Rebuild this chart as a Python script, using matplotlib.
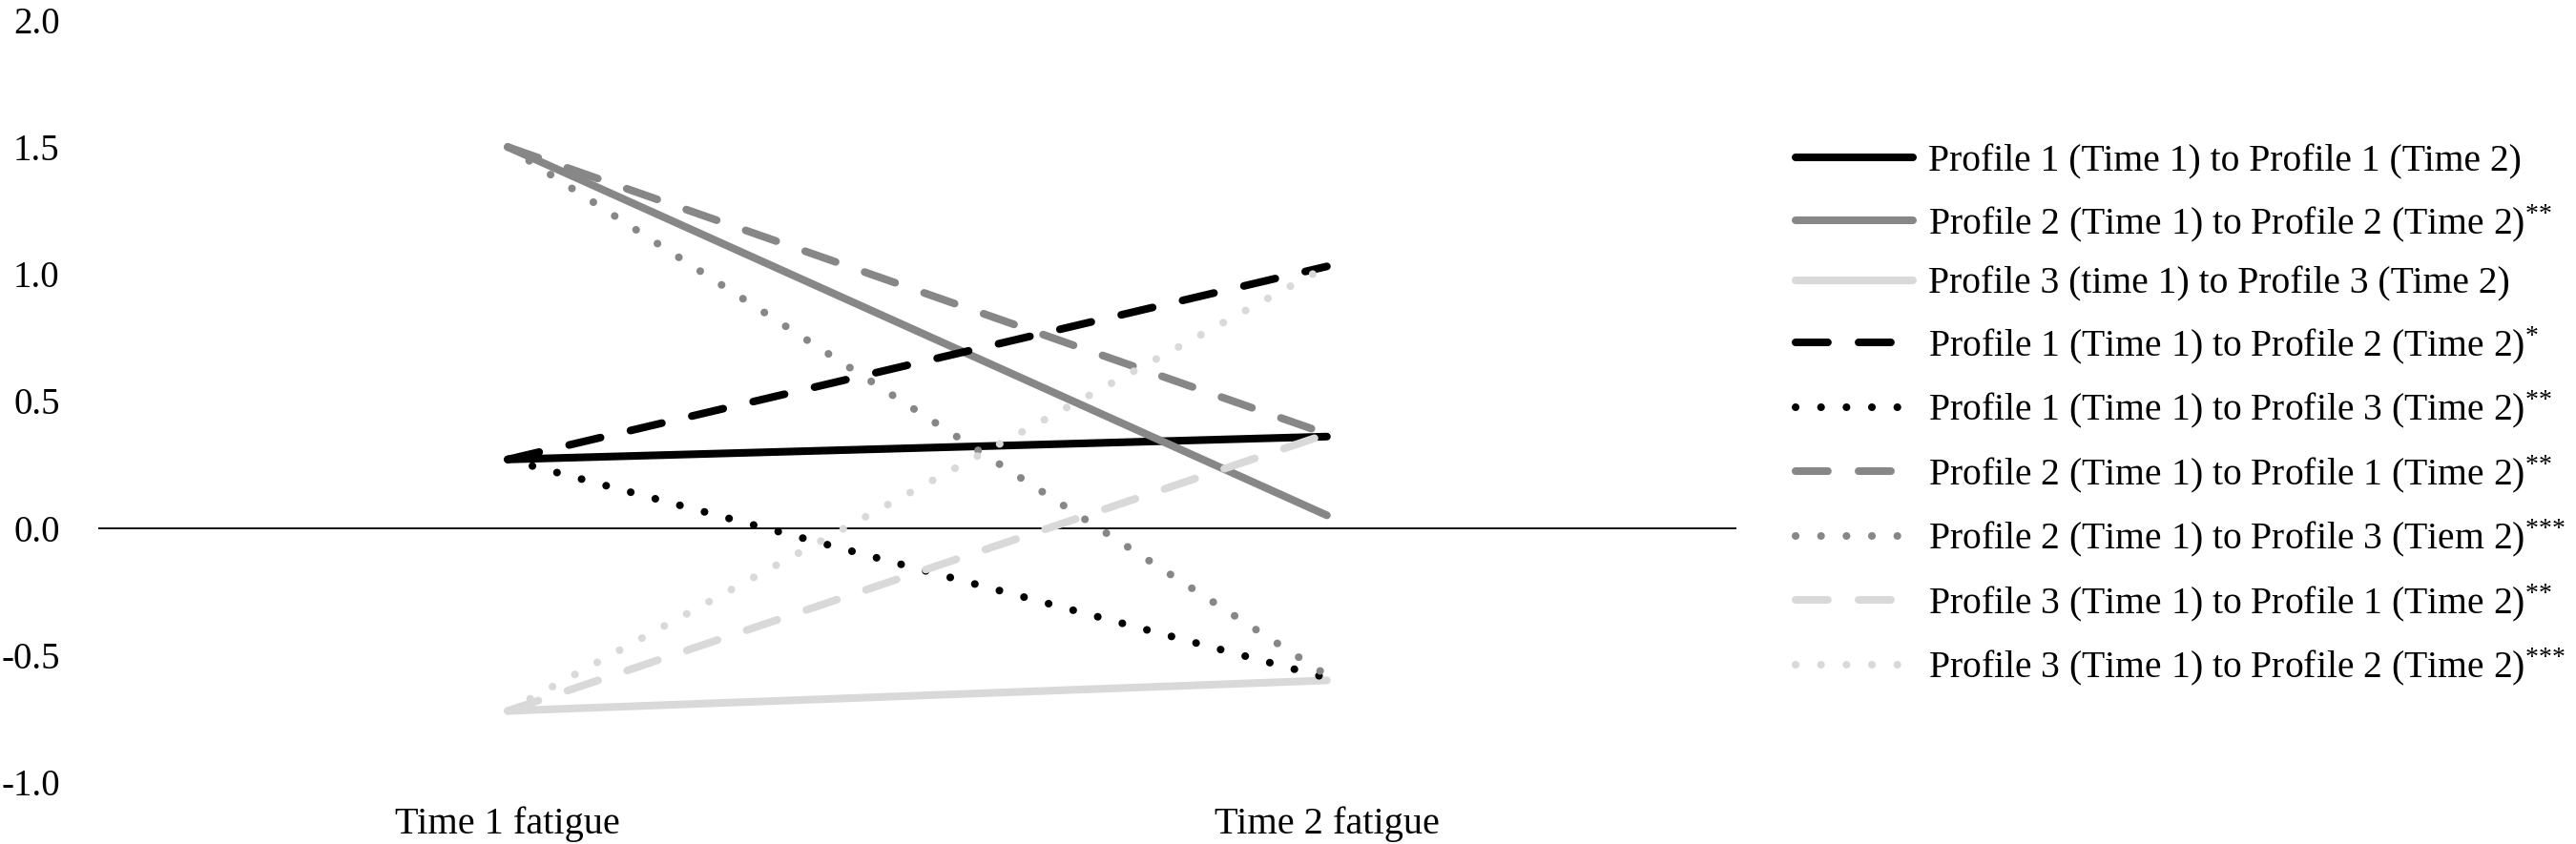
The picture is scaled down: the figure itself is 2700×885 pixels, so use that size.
import matplotlib
matplotlib.use("Agg")
import matplotlib.pyplot as plt

plt.rcParams['mathtext.fontset'] = 'custom'
plt.rcParams['mathtext.rm'] = 'Liberation Serif'
plt.rcParams['mathtext.it'] = 'Liberation Serif'

# data
times = ['Time 1 fatigue', 'Time 2 fatigue']
labels = [
    'Profile 1 (Time 1) to Profile 1 (Time 2)',
    'Profile 2 (Time 1) to Profile 2 (Time 2)$^{{*}{*}}$',
    'Profile 3 (time 1) to Profile 3 (Time 2)',
    'Profile 1 (Time 1) to Profile 2 (Time 2)$^{{*}}$',
    'Profile 1 (Time 1) to Profile 3 (Time 2)$^{{*}{*}}$',
    'Profile 2 (Time 1) to Profile 1 (Time 2)$^{{*}{*}}$',
    'Profile 2 (Time 1) to Profile 3 (Tiem 2)$^{{*}{*}{*}}$',
    'Profile 3 (Time 1) to Profile 1 (Time 2)$^{{*}{*}}$',
    'Profile 3 (Time 1) to Profile 2 (Time 2)$^{{*}{*}{*}}$',
]
p11 = [0.27, 0.36]
p22 = [1.50, 0.05]
p33 = [-0.72, -0.60]
p12 = [0.27, 1.03]
p13 = [0.27, -0.59]
p21 = [1.50, 0.37]
p23 = [1.50, -0.58]
p31 = [-0.72, 0.37]
p32 = [-0.72, 1.03]
series = [p11, p22, p33, p12, p13, p21, p23, p31, p32]

black = '#000000'
gray = '#878787'
light = '#d9d9d9'
solid = '-'
dashed = (0, (4.2, 4.0))
dotted = (0, (0.01, 3.3))
colors = [black, gray, light, black, black, gray, gray, light, light]
styles = [solid, solid, solid, dashed, dotted, dashed, dotted, dashed, dotted]

W, H = 2700, 885
fig = plt.figure(figsize=(27, 8.85), dpi=100)
ax = fig.add_axes([103 / W, 1 - 820 / H, (1820 - 103) / W, (820 - 21) / H])

x = list(range(len(times)))
for vals, c, ls, lab in zip(series, colors, styles, labels):
    ax.plot(x, vals, color=c, linestyle=ls, linewidth=5.8, label=lab,
            solid_capstyle='round', dash_capstyle='round')

ax.axhline(0, color='black', linewidth=1.3, zorder=0)
ax.set_xlim(-0.5, 1.5)
ax.set_ylim(-1.0, 2.0)
ax.set_yticks([-1.0, -0.5, 0.0, 0.5, 1.0, 1.5, 2.0])
ax.set_yticklabels(['-1.0', '-0.5', '0.0', '0.5', '1.0', '1.5', '2.0'],
                   fontfamily='Liberation Serif', fontsize=28)
ax.set_xticks(x)
ax.set_xticklabels(times, fontfamily='Liberation Serif', fontsize=29)
ax.tick_params(axis='y', length=0, pad=29)
ax.tick_params(axis='x', length=0, pad=18)
for s in ax.spines.values():
    s.set_visible(False)

fig.legend(loc='center left', bbox_to_anchor=(1882 / W, 1 - 436 / H),
           frameon=False, borderpad=0, borderaxespad=0,
           handlelength=3.1, handletextpad=0.4, labelspacing=0.6,
           prop={'family': 'Liberation Serif', 'size': 28.5})

fig.savefig('out.png', dpi=100)
